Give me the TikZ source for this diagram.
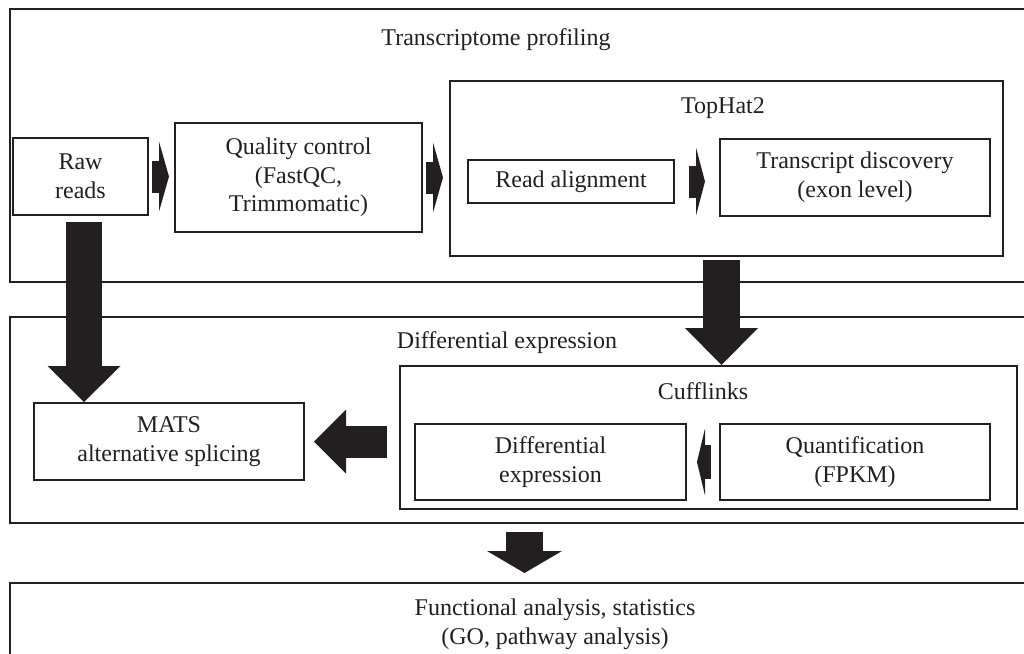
\documentclass[tikz,border=0pt]{standalone}
\usepackage{fontspec}
\setmainfont{Liberation Serif}
\usetikzlibrary{arrows.meta}
\newdimen\px \px=0.5pt
\definecolor{ink}{RGB}{35,31,32}
\tikzstyle{stage} = [draw=ink, line width=1pt, inner sep=0pt, align=center]
\tikzset{
  blockarrow/.style n args={3}{draw=ink, line width=#1,
    -{Triangle[width=#2, length=#3, line width=0pt, fill=ink]}}
}

\begin{document}
\begin{tikzpicture}[x=0.5pt, y=-0.5pt, font=\fontsize{12}{14.3}\selectfont, text=ink]
  \useasboundingbox (0,0) rectangle (1024,654);
  % outer stages
  \node[stage, minimum width=1029\px, minimum height=273\px] (profbox) at (524.5,145.5) {};
  \node[stage, minimum width=1029\px, minimum height=206\px] (diffbox) at (524.5,420) {};
  \node[stage, minimum width=1029\px, minimum height=117\px] (funcbox) at (524.5,641.5) {};
  \node[anchor=base] (proftitle) at (496,45) {Transcriptome profiling};
  \node[anchor=base] (difftitle) at (507,348) {Differential expression};
  \node[align=center] (functitle) at (555,624) {Functional analysis, statistics\\(GO, pathway analysis)};
  % transcriptome profiling
  \node[stage, minimum width=135\px, minimum height=77\px] (raw) at (80.5,176.5) {Raw\\reads};
  \node[stage, minimum width=247\px, minimum height=109\px] (qc) at (298.5,177.5) {Quality control\\(FastQC,\\Trimmomatic)};
  \node[stage, minimum width=553\px, minimum height=175\px] (tophat) at (726.5,168.5) {};
  \node[anchor=base] (tophattitle) at (723,113) {TopHat2};
  \node[stage, minimum width=206\px, minimum height=43\px] (align) at (571,181.5) {Read alignment};
  \node[stage, minimum width=270\px, minimum height=77\px] (disc) at (855,177.5) {Transcript discovery\\(exon level)};
  % differential expression
  \node[stage, minimum width=270\px, minimum height=77\px] (mats) at (169,441.5) {MATS\\alternative splicing};
  \node[stage, minimum width=617\px, minimum height=143\px] (cuff) at (708.5,437.5) {};
  \node[anchor=base] (cufftitle) at (703,399) {Cufflinks};
  \node[stage, minimum width=271\px, minimum height=76\px] (dexp) at (550.5,462) {Differential\\expression};
  \node[stage, minimum width=270\px, minimum height=76\px] (quant) at (855,462) {Quantification\\(FPKM)};
  % block arrows (sizes in pt)
  \draw[blockarrow={16pt}{35pt}{5pt}, shorten <=3\px, shorten >=5\px] (raw.east) -- (qc.west |- raw.east);
  \draw[blockarrow={16pt}{35pt}{5pt}, shorten <=3\px, shorten >=6\px] (qc.east) -- (qc.east -| tophat.west);
  \draw[blockarrow={16pt}{34pt}{4.5pt}, shorten <=14\px, shorten >=14\px] (align.east) -- (align.east -| disc.west);
  \draw[blockarrow={18pt}{36.5pt}{18pt}, shorten <=6\px] ([xshift=3.5\px]raw.south) -- ([xshift=3.5\px]raw.south |- mats.north);
  \draw[blockarrow={18.5pt}{36.5pt}{18.5pt}, shorten <=3\px] ([xshift=-5\px]tophat.south) -- ([xshift=-5\px]tophat.south |- cuff.north);
  \draw[blockarrow={16pt}{32pt}{16pt}, shorten <=12\px, shorten >=9\px] (mats.east -| cuff.west) -- (mats.east);
  \draw[blockarrow={17pt}{33.5pt}{4pt}, shorten <=8\px, shorten >=10\px] (quant.west) -- (dexp.east);
  \draw[blockarrow={18.5pt}{37.5pt}{11pt}, shorten <=8\px, shorten >=9\px] (diffbox.south) -- (funcbox.north);
\end{tikzpicture}
\end{document}
